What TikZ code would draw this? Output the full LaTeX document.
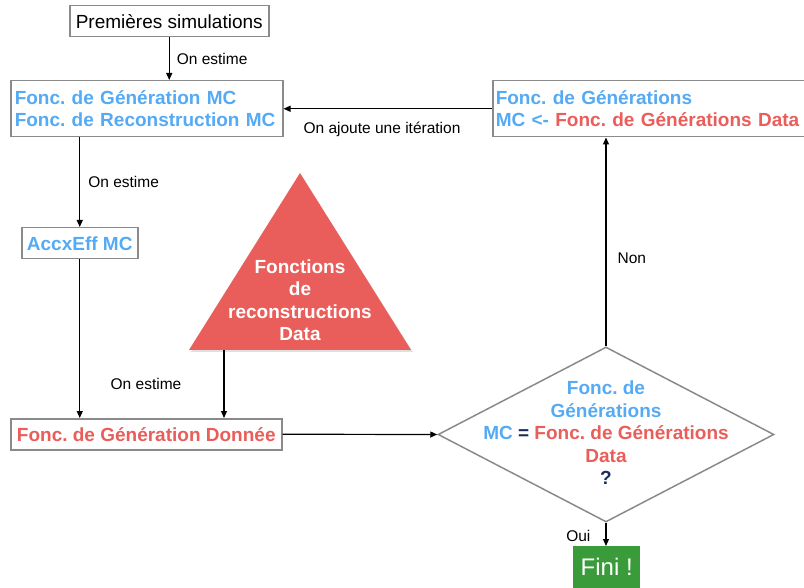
\documentclass[tikz,border=0pt]{standalone}
\usepackage{fontspec}
\setmainfont{Liberation Sans}
\usetikzlibrary{arrows.meta,shapes.geometric}
\frenchspacing
\definecolor{mcblue}{HTML}{55AAF5}
\definecolor{datared}{HTML}{E95D5A}
\definecolor{boxgray}{HTML}{8A8A8A}
\definecolor{finigreen}{HTML}{3A9B3A}
\definecolor{navy}{HTML}{1A2E5A}
\tikzset{
  graybox/.style={draw=boxgray, line width=1.5pt, fill=white, inner sep=0pt, anchor=north west},
  conn/.style={line width=1.2pt, -{Triangle[length=7pt,width=6pt]}},
  lbl/.style={font=\fontsize{15.5}{17}\selectfont, inner sep=0pt},
  bigb/.style={font=\fontsize{19}{22.5}\selectfont\bfseries},
}
\begin{document}
\frenchspacing
\begin{tikzpicture}[x=1pt,y=-1pt]
\useasboundingbox (0,0) rectangle (804,588);
% boxes
\node[graybox, minimum width=199pt, minimum height=31pt, font=\fontsize{19}{22}\selectfont] (prem) at (69,5) {Premières simulations};
\node[graybox, minimum width=272pt, minimum height=56pt, text width=264pt, align=left, bigb, text=mcblue] (mc) at (10,80) {Fonc. de Génération MC\\Fonc. de Reconstruction MC};
\node[graybox, minimum width=116pt, minimum height=31pt, bigb, text=mcblue] (acc) at (21,227) {AccxEff MC};
\node[graybox, minimum width=271pt, minimum height=31pt, bigb, text=datared] (don) at (10,418) {Fonc. de Génération Donnée};
\node[graybox, minimum width=312pt, minimum height=56pt, text width=306pt, align=left, bigb, text=mcblue] (upd) at (492,80) {Fonc. de Générations\\MC <- \textcolor{datared}{Fonc. de Générations Data}};
% triangle
\fill[black!25, opacity=0.5] (301,175) -- (413,352) -- (191,352) -- cycle;
\fill[datared] (300,173) -- (411,350) -- (189,350) -- cycle;
\node[bigb, text=white, align=center] (tri) at (300,300) {Fonctions\\de\\reconstructions\\Data};
\coordinate (trib) at (224,350);
% diamond
\node[diamond, draw=boxgray, line width=1.5pt, minimum width=336pt, minimum height=175pt, inner sep=0pt] (dia) at (606,434.5) {};
\node[bigb, align=center, text=mcblue] (diat) at (606,433) {Fonc. de\\Générations\\MC \textcolor{navy}{=} \textcolor{datared}{Fonc. de Générations}\\\textcolor{datared}{Data}\\\textcolor{navy}{?}};
% fini
\node[fill=finigreen, minimum width=67pt, minimum height=42pt, inner sep=0pt, anchor=north west, text=white, font=\fontsize{24}{26}\selectfont] (fini) at (573,546) {Fini !};
% connectors
\draw[conn] (prem.south) -- (prem.south |- mc.north) node[lbl, midway, right=7pt] (l1) {On estime};
\draw[conn] (mc.south -| acc.north) -- (acc.north) node[lbl, midway, right=8pt] (l2) {On estime};
\draw[conn] (acc.south) -- (acc.south |- don.north);
\node[lbl] (l3) at (146,384) {On estime};
\draw[conn] (trib) -- (trib |- don.north);
\draw[conn] (don.east) -- (dia.west);
\draw[conn] (dia.north) -- (dia.north |- upd.south) node[lbl, pos=0.42, right=11pt] (l4) {Non};
\draw[conn] (upd.west) -- (mc.east);
\node[lbl] (l5) at (382,129) {On ajoute une itération};
\draw[conn] (dia.south) -- (fini.north -| dia.south) node[lbl, pos=0.55, left=15pt] (l6) {Oui};
\end{tikzpicture}
\end{document}
